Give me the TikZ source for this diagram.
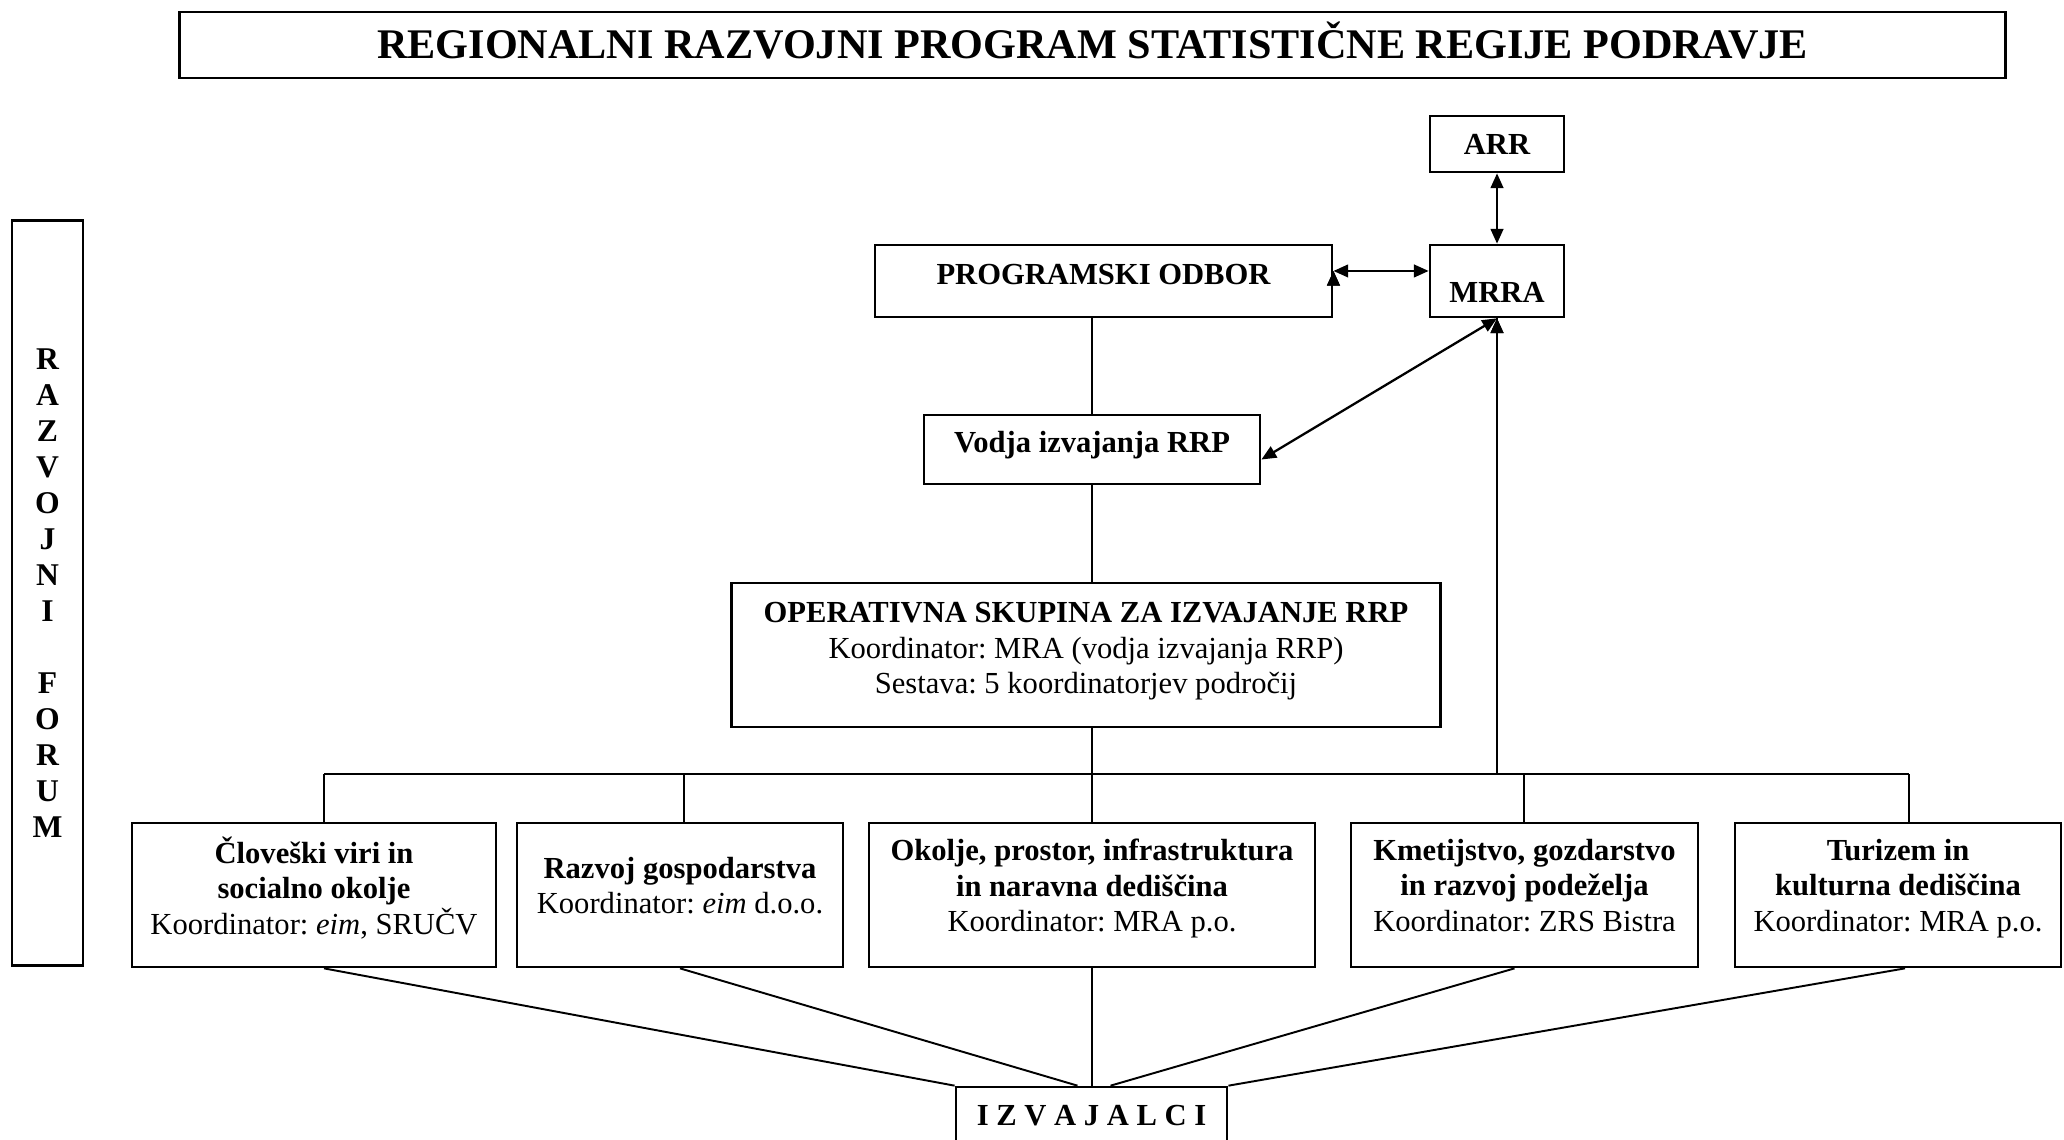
\documentclass[tikz,border=0pt]{standalone}
\usepackage{fontspec}
\setmainfont{Liberation Serif}
\frenchspacing
\usetikzlibrary{arrows.meta}
\tikzset{
  box/.style={shape=rectangle, draw=black, line width=0.75pt, align=center, inner sep=0pt, font=\fontsize{8.7}{10.1}\selectfont},
  link/.style={-, line width=0.55pt, draw=black},
  both/.style={<->, >={Triangle[length=4.2pt, width=3.6pt]}, line width=0.65pt, draw=black}
}
\begin{document}
\begin{tikzpicture}[x=0.01cm, y=-0.01cm]
\useasboundingbox (0,0) rectangle (2064,1140);
\node[box, minimum width=18.25cm, minimum height=0.66cm, text depth=3pt, font=\fontsize{12}{14}\selectfont\bfseries] (title) at (1092.5,45) {REGIONALNI RAZVOJNI PROGRAM STATISTIČNE REGIJE PODRAVJE};
\node[box, minimum width=0.71cm, minimum height=7.44cm, font=\fontsize{9}{10.25}\selectfont\bfseries] (forum) at (47.5,593) {R\\A\\Z\\V\\O\\J\\N\\I\\[10.25pt]F\\O\\R\\U\\M};
\node[box, minimum width=1.34cm, minimum height=0.56cm, font=\fontsize{8.7}{10.1}\selectfont\bfseries] (arr) at (1497,144) {ARR};
\node[box, minimum width=4.57cm, minimum height=0.72cm, text depth=4pt, font=\fontsize{8.7}{10.1}\selectfont\bfseries] (po) at (1103.5,281) {PROGRAMSKI ODBOR};
\node[box, minimum width=1.34cm, minimum height=0.72cm, text height=12pt, text depth=0pt, font=\fontsize{8.7}{10.1}\selectfont\bfseries] (mrra) at (1497,281) {MRRA};
\node[box, minimum width=3.36cm, minimum height=0.69cm, text depth=4.5pt, font=\fontsize{8.7}{10.1}\selectfont\bfseries] (vodja) at (1092,449.5) {Vodja izvajanja RRP};
\node[box, minimum width=7.08cm, minimum height=1.44cm, text depth=4pt] (ops) at (1086,655) {\textbf{OPERATIVNA SKUPINA ZA IZVAJANJE RRP}\\Koordinator: MRA (vodja izvajanja RRP)\\Sestava: 5 koordinatorjev področij};
\node[box, minimum width=3.64cm, minimum height=1.44cm, text depth=5.5pt] (vir) at (314,895) {\textbf{Človeški viri in}\\\textbf{socialno okolje}\\Koordinator: \textit{eim}, SRUČV};
\node[box, minimum width=3.26cm, minimum height=1.44cm, text depth=5.5pt] (gosp) at (680,895) {\textbf{Razvoj gospodarstva}\\Koordinator: \textit{eim} d.o.o.};
\node[box, minimum width=4.46cm, minimum height=1.44cm, text depth=5.5pt] (okol) at (1092,895) {\textbf{Okolje, prostor, infrastruktura}\\\textbf{in naravna dediščina}\\Koordinator: MRA p.o.};
\node[box, minimum width=3.47cm, minimum height=1.44cm, text depth=5.5pt] (kmet) at (1524.5,895) {\textbf{Kmetijstvo, gozdarstvo}\\\textbf{in razvoj podeželja}\\Koordinator: ZRS Bistra};
\node[box, minimum width=3.26cm, minimum height=1.44cm, text depth=5.5pt] (tur) at (1898,895) {\textbf{Turizem in}\\\textbf{kulturna dediščina}\\Koordinator: MRA p.o.};
\node[box, minimum width=2.71cm, minimum height=0.58cm, font=\fontsize{8.7}{10.1}\selectfont\bfseries] (izv) at (1091.5,1116) {I Z V A J A L C I};
\coordinate (b1) at (324,774);
\coordinate (b2) at (684,774);
\coordinate (b3) at (1092,774);
\coordinate (b4) at (1524,774);
\coordinate (b5) at (1909,774);
\path [both] (arr) edge (mrra);
\path [both] ([yshift=2.85pt]po.east) edge ([yshift=2.85pt]mrra.west);
\path [both] (mrra.south) edge ([yshift=-2.85pt]vodja.east);
\path [link] (vodja.north |- po.south) edge (vodja.north);
\path [link] (vodja.south) edge (vodja.south |- ops.north);
\path [link] (b3 |- ops.south) edge (b3);
\path [link] (mrra.south) edge (mrra.south |- b4);
\draw [link] (b1) -- (b5);
\path [link] (b1) edge (b1 |- vir.north);
\path [link] (b2) edge (b2 |- gosp.north);
\path [link] (b3) edge (b3 |- okol.north);
\path [link] (b4) edge (b4 |- kmet.north);
\path [link] (b5) edge (b5 |- tur.north);
\path [link] ([xshift=0.1cm]vir.south) edge (izv.north west);
\path [link] (gosp.south) edge ([xshift=-0.14cm]izv.north);
\path [link] (okol.south) edge (okol.south |- izv.north);
\path [link] ([xshift=-0.1cm]kmet.south) edge ([xshift=0.19cm]izv.north);
\path [link] ([xshift=0.07cm]tur.south) edge (izv.north east);
\end{tikzpicture}
\end{document}
